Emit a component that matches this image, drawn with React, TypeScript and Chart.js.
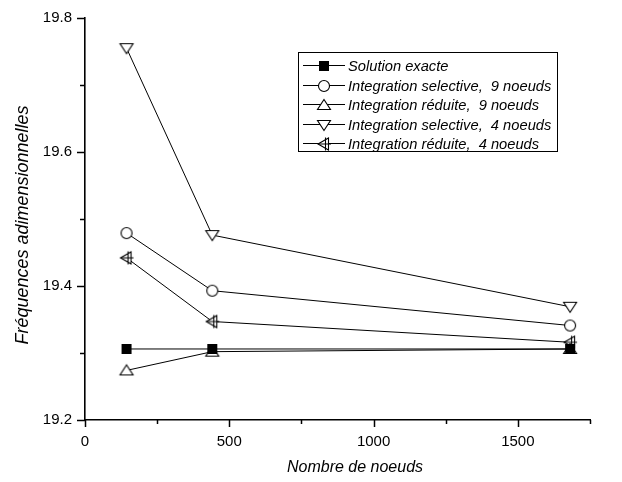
import React, { useEffect, useRef } from "react";
import { Chart, registerables } from "chart.js";

Chart.register(...registerables);

// ---- data ----
const nodes = [144, 441, 1681];
const exacte = [19.306, 19.306, 19.306];
const selective9 = [19.479, 19.393, 19.341];
const reduite9 = [19.274, 19.302, 19.306];
const selective4 = [19.755, 19.476, 19.369];
const reduite4 = [19.442, 19.347, 19.316];
const seriesLabels = [
  "Solution exacte",
  "Integration selective,  9 noeuds",
  "Integration réduite,  9 noeuds",
  "Integration selective,  4 noeuds",
  "Integration réduite,  4 noeuds",
];
const xTitle = "Nombre de noeuds";
const yTitle = "Fréquences adimensionnelles";
const xMin = 0, xMax = 1750, xStep = 250, xLabelStep = 500;
const yMin = 19.2, yMax = 19.8, yStep = 0.1;

const FONT = '"Liberation Sans", Arial, Helvetica, sans-serif';

function mk(draw: (ctx: CanvasRenderingContext2D, c: number) => void) {
  const size = 20;
  const cv = document.createElement("canvas");
  cv.width = size;
  cv.height = size;
  const ctx = cv.getContext("2d")!;
  ctx.strokeStyle = "#000";
  ctx.fillStyle = "#fff";
  ctx.lineWidth = 1.1;
  draw(ctx, size / 2);
  return cv;
}

function makeMarkers() {
  const square = mk((ctx, c) => {
    ctx.fillStyle = "#000";
    ctx.fillRect(c - 5, c - 5, 10, 10);
  });
  const circle = mk((ctx, c) => {
    ctx.beginPath();
    ctx.arc(c, c, 5.5, 0, Math.PI * 2);
    ctx.fill();
    ctx.stroke();
  });
  const triUp = mk((ctx, c) => {
    ctx.beginPath();
    ctx.moveTo(c, c - 5.5);
    ctx.lineTo(c + 6.5, c + 4.5);
    ctx.lineTo(c - 6.5, c + 4.5);
    ctx.closePath();
    ctx.fill();
    ctx.stroke();
  });
  const triDown = mk((ctx, c) => {
    ctx.beginPath();
    ctx.moveTo(c, c + 5.5);
    ctx.lineTo(c + 6.5, c - 4.5);
    ctx.lineTo(c - 6.5, c - 4.5);
    ctx.closePath();
    ctx.fill();
    ctx.stroke();
  });
  const triLeft = mk((ctx, c) => {
    ctx.beginPath();
    ctx.moveTo(c - 6, c);
    ctx.lineTo(c + 4.5, c - 6);
    ctx.lineTo(c + 4.5, c + 6);
    ctx.closePath();
    ctx.fill();
    ctx.stroke();
    ctx.beginPath();
    ctx.moveTo(c + 1.5, c - 6.5);
    ctx.lineTo(c + 1.5, c + 6.5);
    ctx.moveTo(c - 6, c);
    ctx.lineTo(c + 7, c);
    ctx.stroke();
  });
  return [square, circle, triUp, triDown, triLeft];
}

export default function App() {
  const ref = useRef<HTMLCanvasElement | null>(null);

  useEffect(() => {
    if (!ref.current) return;
    const markers = makeMarkers();
    const series = [exacte, selective9, reduite9, selective4, reduite4];

    const decorations = {
      id: "decorations",
      afterDraw(chart: any) {
        const ctx = chart.ctx as CanvasRenderingContext2D;
        const xs = chart.scales.x;
        const ys = chart.scales.y;
        const area = chart.chartArea;
        ctx.save();
        ctx.strokeStyle = "#000";
        ctx.lineWidth = 1.5;
        // y ticks
        for (let i = 0; i <= Math.round((yMax - yMin) / yStep); i++) {
          const v = yMin + i * yStep;
          const y = Math.round(ys.getPixelForValue(v)) + 0.5;
          const len = i % 2 === 0 ? 8 : 5;
          ctx.beginPath();
          ctx.moveTo(area.left - len, y);
          ctx.lineTo(area.left, y);
          ctx.stroke();
        }
        // x ticks
        for (let v = xMin; v <= xMax; v += xStep) {
          const x = Math.round(xs.getPixelForValue(v)) + 0.5;
          const len = v % xLabelStep === 0 ? 7 : 4;
          ctx.beginPath();
          ctx.moveTo(x, area.bottom);
          ctx.lineTo(x, area.bottom + len);
          ctx.stroke();
        }
        // axis titles
        ctx.fillStyle = "#000";
        ctx.textAlign = "center";
        ctx.textBaseline = "middle";
        ctx.font = `italic 16px ${FONT}`;
        ctx.fillText(xTitle, 355, 468);
        ctx.save();
        ctx.translate(23, 225);
        ctx.rotate(-Math.PI / 2);
        ctx.font = `italic 18px ${FONT}`;
        ctx.fillText(yTitle, 0, 0);
        ctx.restore();

        // legend
        const bx = 298, by = 52, bw = 259, bh = 99;
        ctx.lineWidth = 1;
        ctx.strokeStyle = "#000";
        ctx.fillStyle = "#fff";
        ctx.fillRect(bx, by, bw, bh);
        ctx.strokeRect(bx + 0.5, by + 0.5, bw, bh);
        ctx.font = `italic 14.7px ${FONT}`;
        ctx.textAlign = "left";
        ctx.textBaseline = "middle";
        chart.data.datasets.forEach((ds: any, i: number) => {
          const y = Math.round(by + 13 + i * 19.6) + 0.5;
          ctx.strokeStyle = "#000";
          ctx.beginPath();
          ctx.moveTo(bx + 5, y);
          ctx.lineTo(bx + 47, y);
          ctx.stroke();
          const m = markers[i];
          ctx.drawImage(m, bx + 26 - m.width / 2, Math.round(y - m.height / 2));
          ctx.fillStyle = "#000";
          ctx.fillText(ds.label, bx + 50, y + 1);
        });
        ctx.restore();
      },
    };

    const chart = new Chart(ref.current, {
      type: "line",
      data: {
        datasets: series.map((vals, i) => ({
          label: seriesLabels[i],
          data: nodes.map((n, j) => ({ x: n, y: vals[j] })),
          borderColor: "#000",
          borderWidth: 1,
          pointStyle: markers[i] as any,
          pointRadius: 6,
          pointHoverRadius: 6,
          fill: false,
          tension: 0,
        })),
      },
      options: {
        animation: false,
        responsive: false,
        devicePixelRatio: 1,
        events: [],
        layout: { padding: { left: 0, right: 32, top: 18, bottom: 0 } },
        plugins: { legend: { display: false }, tooltip: { enabled: false } },
        scales: {
          x: {
            type: "linear",
            min: xMin,
            max: xMax,
            border: { display: true, color: "#000", width: 1.6 },
            grid: { display: false, drawTicks: true, tickLength: 7 },
            ticks: {
              stepSize: xStep,
              autoSkip: false,
              maxRotation: 0,
              padding: 6,
              color: "#000",
              font: { family: FONT, size: 15 },
              callback: (v: any) => (Number(v) % xLabelStep === 0 ? String(v) : ""),
            },
            afterFit: (s: any) => {
              s.height = 62;
            },
          },
          y: {
            type: "linear",
            min: yMin,
            max: yMax,
            border: { display: true, color: "#000", width: 1.6 },
            grid: { display: false, drawTicks: true, tickLength: 8 },
            ticks: {
              stepSize: yStep,
              autoSkip: false,
              padding: 5,
              color: "#000",
              font: { family: FONT, size: 15 },
              callback: (v: any) =>
                Math.round(Number(v) * 10) % 2 === 0 ? Number(v).toFixed(1) : "",
            },
            afterFit: (s: any) => {
              s.width = 85;
            },
          },
        },
      },
      plugins: [decorations],
    } as any);

    return () => chart.destroy();
  }, []);

  return (
    <div style={{ position: "absolute", left: 0, top: 0, width: 622, height: 482, background: "#fff" }}>
      <canvas ref={ref} width={622} height={482} style={{ display: "block" }} />
    </div>
  );
}
